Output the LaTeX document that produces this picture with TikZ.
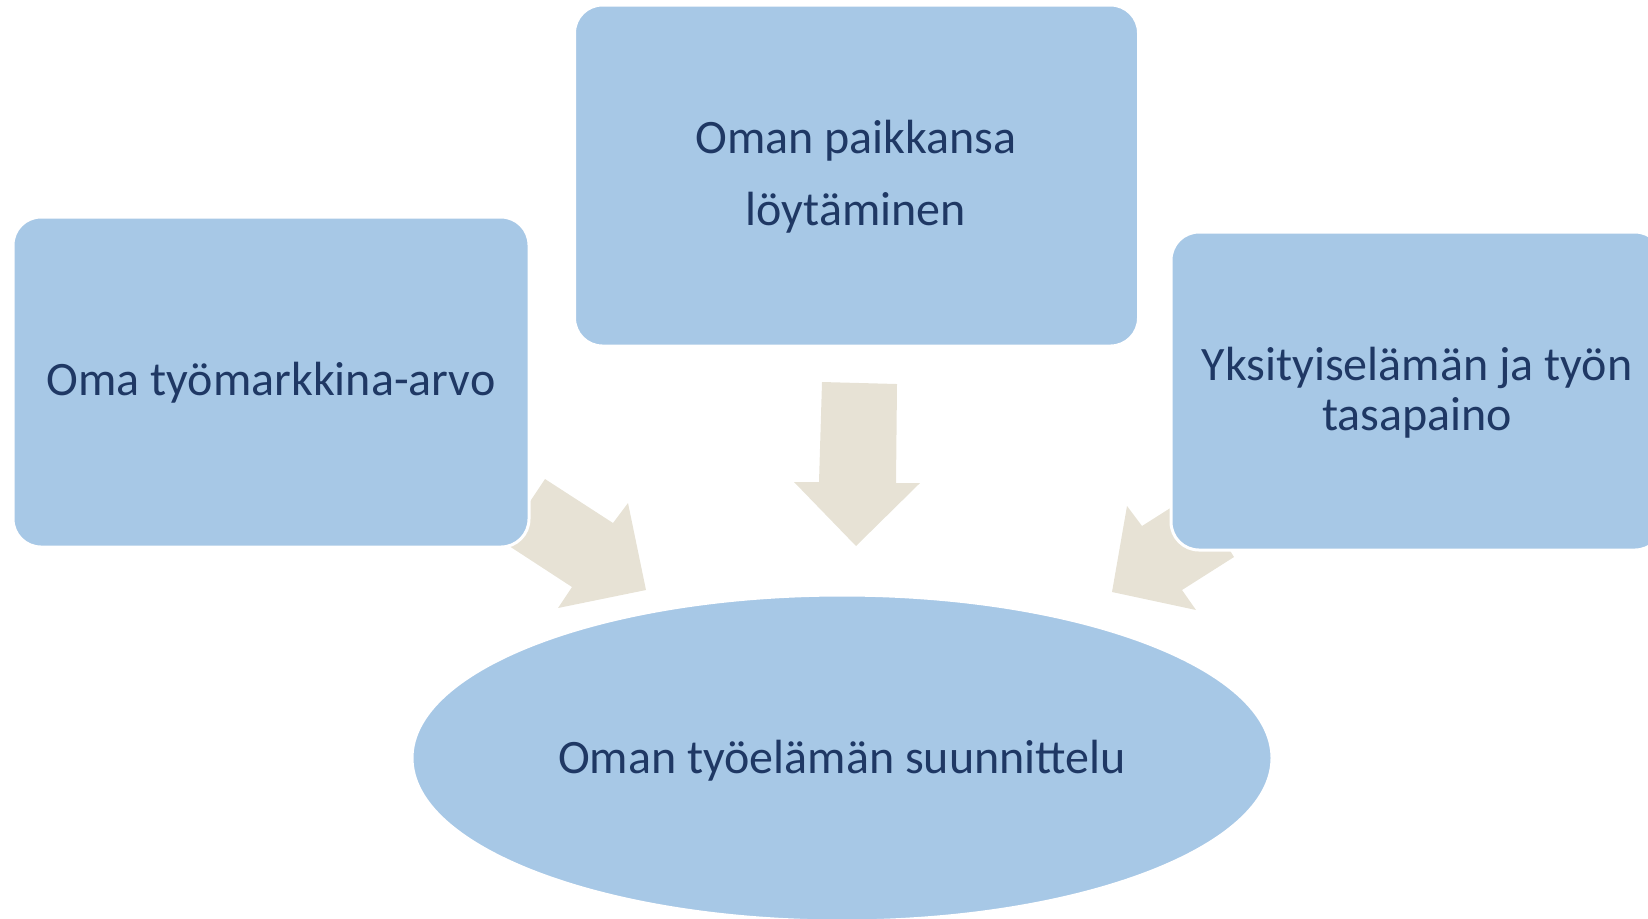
\documentclass[tikz,border=0pt]{standalone}
\usepackage{fontspec}
\setmainfont{Carlito}
\usetikzlibrary{shapes.geometric}
\definecolor{boxblue}{RGB}{167,200,230}
\definecolor{txtblue}{RGB}{31,56,100}
\definecolor{arrowbeige}{RGB}{231,226,213}
\begin{document}
\begin{tikzpicture}[x=0.5pt,y=-0.5pt,
  box/.style={draw=white, line width=1.5pt, fill=boxblue, rounded corners=14pt, inner sep=0pt},
  oval/.style={ellipse, draw=white, line width=1.5pt, fill=boxblue, inner sep=0pt},
  lbl/.style={text=txtblue, align=center, inner sep=0pt},
  blockarrow/.style={fill=arrowbeige, draw=none}]
\useasboundingbox (0,0) rectangle (1648,918);
\clip (0,0) rectangle (1648,918);
% block arrows (behind boxes)
\fill[blockarrow] (503,542) -- (545,479) -- (613,523) -- (628,503) -- (646,590) -- (558,608) -- (572,587) -- cycle;
\fill[blockarrow] (822,382) -- (897,384) -- (896,483) -- (920,483) -- (856,546) -- (794,482) -- (819,482) -- cycle;
\fill[blockarrow] (1194,493) -- (1142,526) -- (1127,506) -- (1112,592) -- (1196,610) -- (1182,590) -- (1234,557) -- cycle;
% boxes
\node[box, minimum width=258pt, minimum height=165pt] (left) at (271,382) {};
\node[box, minimum width=282pt, minimum height=170.5pt] (top) at (856.5,175.5) {};
\node[box, minimum width=246pt, minimum height=159pt] (right) at (1417,391) {};
\node[oval, minimum width=430pt, minimum height=163pt] (goal) at (842,758) {};
% texts
\node[lbl, font=\fontsize{24}{30}\selectfont] (lefttxt) at (271,383) {Oma työmarkkina-arvo};
\node[lbl, font=\fontsize{24}{36}\selectfont] (toptxt) at (856,177) {Oman paikkansa\\löytäminen};
\node[lbl, font=\fontsize{24}{25}\selectfont] (righttxt) at (1417,393) {Yksityiselämän ja työn\\tasapaino};
\node[lbl, font=\fontsize{24}{30}\selectfont] (goaltxt) at (842,761) {Oman työelämän suunnittelu};
\end{tikzpicture}
\end{document}
